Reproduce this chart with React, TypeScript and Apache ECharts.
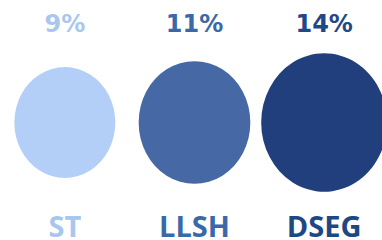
import React, { useEffect, useRef } from "react";
import * as echarts from "echarts";

const categories = ["ST", "LLSH", "DSEG"];
const values = [9, 11, 14];
const circleColors = ["#b3cff8", "#4669a5", "#213f7c"];
const valueLabelColors = ["#a9c7ee", "#3b68a8", "#1f4886"];
const nameLabelColors = ["#a8c6ee", "#3a69a9", "#1e4883"];

export default function App() {
  const ref = useRef<HTMLDivElement>(null);
  useEffect(() => {
    document.body.style.margin = "0";
    document.body.style.overflow = "hidden";
    const chart = echarts.init(ref.current!, null, { renderer: "svg" });
    chart.setOption({
      animation: false,
      grid: { left: 0, right: 0, top: 43, bottom: 33 },
      xAxis: [
        {
          type: "category",
          data: categories,
          position: "bottom",
          axisLine: { show: false },
          axisTick: { show: false },
          splitLine: { show: false },
          axisLabel: {
            margin: 9,
            fontFamily: "'Open Sans', sans-serif",
            fontWeight: "bold",
            fontSize: 29,
            color: (_v: any, i: number) => nameLabelColors[i],
          },
        },
        {
          type: "category",
          data: categories,
          position: "top",
          axisLine: { show: false },
          axisTick: { show: false },
          splitLine: { show: false },
          axisLabel: {
            margin: 7,
            fontFamily: "'DejaVu Sans', sans-serif",
            fontWeight: "bold",
            fontSize: 24,
            formatter: (_v: any, i: number) => values[i] + "%",
            color: (_v: any, i: number) => valueLabelColors[i],
          },
        },
      ],
      yAxis: { type: "value", min: -1, max: 1, show: false },
      series: [
        {
          type: "scatter",
          xAxisIndex: 0,
          data: values.map((v, i) => ({
            value: [categories[i], 0],
            symbolSize: [37 * Math.sqrt(v) * 0.91, 37 * Math.sqrt(v)],
            itemStyle: { color: circleColors[i], opacity: 1 },
          })),
          symbol: "circle",
          emphasis: { disabled: true },
        },
      ],
    });
    return () => chart.dispose();
  }, []);
  return (
    <div
      ref={ref}
      style={{ width: 389, height: 240, position: "absolute", left: 0, top: 0 }}
    />
  );
}
